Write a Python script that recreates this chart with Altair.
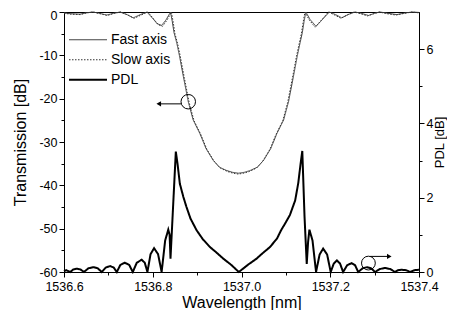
import altair as alt
import pandas as pd

# ---------------- data ----------------
wl_fast = [1536.600, 1536.615, 1536.636, 1536.650, 1536.665, 1536.680, 1536.696, 1536.712, 1536.726,
           1536.742, 1536.756, 1536.772, 1536.787, 1536.800, 1536.810, 1536.820, 1536.830, 1536.840,
           1536.844, 1536.848, 1536.854, 1536.860, 1536.869, 1536.880, 1536.891, 1536.906, 1536.920,
           1536.936, 1536.950, 1536.967, 1536.980, 1536.993, 1537.006, 1537.019, 1537.036, 1537.050,
           1537.066, 1537.080, 1537.095, 1537.106, 1537.117, 1537.126, 1537.132, 1537.137, 1537.141,
           1537.145, 1537.155, 1537.168, 1537.180, 1537.198, 1537.212, 1537.226, 1537.240, 1537.256,
           1537.270, 1537.286, 1537.300, 1537.312, 1537.330, 1537.350, 1537.370, 1537.385, 1537.400]
db_fast = [-0.2, -0.4, -0.5, -0.2, 0.0, -0.3, -0.7, -0.3, 0.0,
           -0.6, -1.35, -0.6, 0.0, -1.5, -2.7, -3.1, -1.8, 0.0,
           -2.2, -4.8, -7.1, -10.0, -14.9, -20.7, -24.9, -28.0, -31.5,
           -34.2, -35.8, -36.6, -37.0, -37.2, -37.0, -36.6, -35.8, -34.2,
           -31.5, -28.0, -24.9, -20.7, -14.9, -10.0, -7.1, -4.8, -2.2,
           0.0, -1.8, -3.3, -2.0, 0.0, -0.6, -1.35, -0.6, 0.0,
           -0.3, -0.8, -0.3, 0.0, -0.3, -0.6, -0.2, 0.0, -0.1]

wl_slow = [1536.600, 1536.616, 1536.637, 1536.651, 1536.666, 1536.681, 1536.698, 1536.713, 1536.728,
           1536.744, 1536.758, 1536.774, 1536.789, 1536.802, 1536.812, 1536.822, 1536.832, 1536.842,
           1536.846, 1536.850, 1536.856, 1536.862, 1536.871, 1536.882, 1536.893, 1536.908, 1536.922,
           1536.938, 1536.952, 1536.968, 1536.981, 1536.993, 1537.005, 1537.018, 1537.034, 1537.048,
           1537.064, 1537.078, 1537.093, 1537.104, 1537.115, 1537.124, 1537.130, 1537.135, 1537.139,
           1537.143, 1537.153, 1537.166, 1537.178, 1537.196, 1537.210, 1537.224, 1537.238, 1537.254,
           1537.268, 1537.284, 1537.298, 1537.310, 1537.328, 1537.348, 1537.368, 1537.384, 1537.400]
db_slow = [-0.3, -0.5, -0.6, -0.2, 0.0, -0.4, -0.8, -0.3, 0.0,
           -0.7, -1.45, -0.7, 0.0, -1.6, -2.9, -3.3, -1.9, 0.0,
           -2.3, -5.0, -7.3, -10.2, -15.1, -20.9, -25.1, -28.2, -31.7,
           -34.4, -36.0, -36.8, -37.2, -37.4, -37.2, -36.8, -36.0, -34.4,
           -31.7, -28.2, -25.1, -20.9, -15.1, -10.2, -7.3, -5.0, -2.3,
           0.0, -1.9, -3.5, -2.1, 0.0, -0.7, -1.45, -0.7, 0.0,
           -0.4, -0.9, -0.4, 0.0, -0.4, -0.7, -0.3, 0.0, -0.2]

wl_pdl = [1536.600, 1536.605, 1536.614, 1536.621, 1536.629, 1536.637, 1536.645,
          1536.655, 1536.666, 1536.676, 1536.685,
          1536.694, 1536.704, 1536.712, 1536.719,
          1536.727, 1536.737, 1536.747, 1536.755,
          1536.764, 1536.775, 1536.782, 1536.788,
          1536.795, 1536.803, 1536.812, 1536.820,
          1536.828, 1536.835, 1536.838, 1536.840,
          1536.846, 1536.852, 1536.856, 1536.861, 1536.869, 1536.876, 1536.885, 1536.899,
          1536.913, 1536.929, 1536.944, 1536.959, 1536.977, 1536.994,
          1537.014, 1537.034, 1537.049, 1537.064, 1537.080, 1537.089, 1537.098, 1537.109,
          1537.121, 1537.128, 1537.133, 1537.137,
          1537.142, 1537.147, 1537.150, 1537.153, 1537.160, 1537.168,
          1537.176, 1537.184, 1537.193, 1537.201,
          1537.208, 1537.215, 1537.222, 1537.229,
          1537.238, 1537.248, 1537.256, 1537.263,
          1537.273, 1537.283, 1537.292, 1537.301,
          1537.312, 1537.323, 1537.335, 1537.346,
          1537.353, 1537.361, 1537.371, 1537.380,
          1537.390, 1537.400]
pdl_db = [0.02, 0.05, 0.0, 0.07, 0.09, 0.07, 0.0,
          0.10, 0.13, 0.10, 0.0,
          0.12, 0.16, 0.12, 0.0,
          0.19, 0.25, 0.19, 0.0,
          0.25, 0.33, 0.25, 0.0,
          0.48, 0.64, 0.48, 0.0,
          0.85, 1.14, 1.0, 0.36,
          1.8, 3.24, 2.9, 2.38, 2.02, 1.75, 1.44, 1.12,
          0.88, 0.67, 0.52, 0.36, 0.19, 0.0,
          0.19, 0.36, 0.52, 0.67, 0.90, 1.12, 1.30, 1.53,
          1.93, 2.40, 2.9, 3.26,
          1.5, 0.22, 0.8, 1.14, 0.85, 0.0,
          0.47, 0.63, 0.47, 0.0,
          0.23, 0.31, 0.23, 0.0,
          0.18, 0.24, 0.18, 0.0,
          0.10, 0.13, 0.10, 0.0,
          0.08, 0.11, 0.08, 0.0,
          0.05, 0.06, 0.05, 0.0,
          0.05, 0.06]

series_names = ["Fast axis", "Slow axis", "PDL"]
series_colors = ["#444444", "#333333", "#000000"]
series_dash = [[1, 0], [1.5, 1.5], [1, 0]]
series_width = [1, 1, 2]

# annotation markers (circle on curve, arrow toward its axis)
left_mark_wl = [1536.880]
left_mark_db = [-20.7]
left_arrow_wl = [1536.8645]
left_arrow_wl2 = [1536.8135]
left_arrow_db = [-21.2]

right_mark_wl = [1537.286]
right_mark_pdl = [0.24]
right_arrow_wl = [1537.290]
right_arrow_wl2 = [1537.333]
right_arrow_pdl = [0.42]

x_ticks = [1536.6, 1536.7, 1536.8, 1536.9, 1537.0, 1537.1, 1537.2, 1537.3, 1537.4]
left_ticks = [-60, -55, -50, -45, -40, -35, -30, -25, -20, -15, -10, -5, 0]
right_ticks = [0, 1, 2, 3, 4, 5, 6]

# ---------------- tables ----------------
trans_df = pd.DataFrame({
    "wl": wl_fast + wl_slow,
    "val": db_fast + db_slow,
    "series": [series_names[0]] * len(wl_fast) + [series_names[1]] * len(wl_slow),
    "order": list(range(len(wl_fast))) + list(range(len(wl_slow))),
})
pdl_df = pd.DataFrame({"wl": wl_pdl, "val": pdl_db, "series": series_names[2],
                       "order": list(range(len(wl_pdl)))})

lm_df = pd.DataFrame({"wl": left_mark_wl, "val": left_mark_db})
la_df = pd.DataFrame({"wl": left_arrow_wl, "wl2": left_arrow_wl2, "val": left_arrow_db})
rm_df = pd.DataFrame({"wl": right_mark_wl, "val": right_mark_pdl})
ra_df = pd.DataFrame({"wl": right_arrow_wl, "wl2": right_arrow_wl2, "val": right_arrow_pdl})

FONT = "Liberation Sans"
x_scale = alt.Scale(domain=[1536.6, 1537.4], nice=False, zero=False)

x_axis = alt.Axis(
    values=x_ticks, labelFlush=False,
    labelExpr="round(datum.value*10) % 2 == 0 ? format(datum.value, '.1f') : ''",
    tickSize={"condition": {"test": "round(datum.value*10) % 2 != 0", "value": 3}, "value": 5},
    title="Wavelength [nm]", grid=False, labelPadding=3, titlePadding=2,
)
x_enc = alt.X("wl:Q", scale=x_scale, axis=x_axis)

left_axis = alt.Axis(
    values=left_ticks,
    labelExpr="datum.value % 10 == 0 ? toString(datum.value) : ''",
    tickSize={"condition": {"test": "datum.value % 10 != 0", "value": 3}, "value": 5},
    labelOffset={"condition": {"test": "datum.value == 0", "value": 3}, "value": 0},
    title="Transmission [dB]", grid=False, labelPadding=2, titlePadding=10,
)
y_left = alt.Y("val:Q", scale=alt.Scale(domain=[-60, 0], nice=False, zero=False), axis=left_axis)

right_axis = alt.Axis(
    orient="right", values=right_ticks,
    labelExpr="datum.value % 2 == 0 ? toString(datum.value) : ''",
    tickSize={"condition": {"test": "datum.value % 2 != 0", "value": 3}, "value": 5},
    title="PDL [dB]", titleAngle=270, titleBaseline="middle", titleFontSize=13,
    grid=False, labelPadding=2, titlePadding=7,
)
y_right = alt.Y("val:Q", scale=alt.Scale(domain=[0, 7], nice=False, zero=False), axis=right_axis)

legend = alt.Legend(
    title=None, orient="none", legendX=4, legendY=18, symbolType="stroke",
    symbolSize=1444, labelFontSize=14, labelFont=FONT, labelColor="black",
    clipHeight=19.5, rowPadding=0, padding=0, labelOffset=3,
)
color = alt.Color("series:N", scale=alt.Scale(domain=series_names, range=series_colors), legend=legend)
dash = alt.StrokeDash("series:N", scale=alt.Scale(domain=series_names, range=series_dash), legend=legend)
swidth = alt.StrokeWidth("series:N", scale=alt.Scale(type="ordinal", domain=series_names, range=series_width), legend=legend)

trans_line = alt.Chart(trans_df).mark_line().encode(
    x=x_enc, y=y_left, color=color, strokeDash=dash, strokeWidth=swidth, order="order:Q")
pdl_line = alt.Chart(pdl_df).mark_line().encode(
    x=x_enc, y=y_right, color=color, strokeDash=dash, strokeWidth=swidth, order="order:Q")

lm = alt.Chart(lm_df).mark_point(shape="circle", size=210, filled=False, color="black", strokeWidth=1, opacity=1).encode(x=x_enc, y=y_left)
la = alt.Chart(la_df).mark_rule(color="black", strokeWidth=1).encode(x=x_enc, x2="wl2:Q", y=y_left)
lh = alt.Chart(la_df).mark_point(shape="triangle-left", size=28, filled=True, color="black", opacity=1).encode(
    x=alt.X("wl2:Q", scale=x_scale, axis=x_axis), y=y_left)

rm = alt.Chart(rm_df).mark_point(shape="circle", size=190, filled=False, color="black", strokeWidth=1, opacity=1).encode(x=x_enc, y=y_right)
ra = alt.Chart(ra_df).mark_rule(color="black", strokeWidth=1).encode(x=x_enc, x2="wl2:Q", y=y_right)
rh = alt.Chart(ra_df).mark_point(shape="triangle-right", size=28, filled=True, color="black", opacity=1).encode(
    x=alt.X("wl2:Q", scale=x_scale, axis=x_axis), y=y_right)

left_group = alt.layer(trans_line, lm, la, lh)
right_group = alt.layer(pdl_line, rm, ra, rh)

chart = alt.layer(left_group, right_group).resolve_scale(y="independent").properties(
    width=355, height=260,
    padding={"left": 56, "top": 4, "right": 28, "bottom": 38},
    autosize=alt.AutoSizeParams(type="none"),
    background="white",
).configure_view(stroke="black", strokeWidth=1).configure_axis(
    domainColor="black", tickColor="black", labelColor="black", titleColor="black",
    labelFont=FONT, titleFont=FONT, labelFontSize=12.5, titleFontSize=16,
    titleFontWeight="normal", domainWidth=1, tickWidth=1,
)

chart.save("out.html", embed_options={"renderer": "svg", "actions": False})
